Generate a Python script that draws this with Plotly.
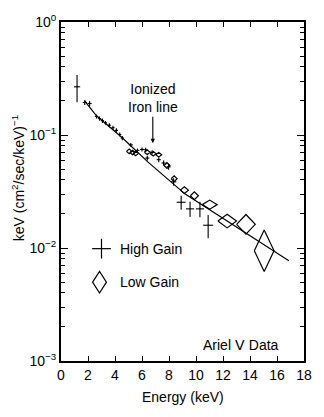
import numpy as np
import plotly.graph_objects as go

# ---------------- data ----------------
# High gain (crosses): energy, flux, energy half-width, flux error
hg_E = [1.19, 1.76, 2.12, 2.63, 2.85, 3.07, 3.30, 3.58, 3.85, 4.10, 4.35, 4.54,
        5.17, 5.66, 6.00, 6.27, 6.39, 6.75, 7.24, 7.60, 7.97, 8.34,
        8.90, 9.56, 10.29, 10.90]
hg_F = [0.267, 0.194, 0.190, 0.146, 0.140, 0.134, 0.128, 0.122, 0.116, 0.110, 0.101, 0.094,
        0.0818, 0.0731, 0.0745, 0.0740, 0.0625, 0.0703, 0.0605, 0.0565, 0.0523, 0.0385,
        0.0254, 0.0222, 0.0222, 0.0159]
hg_dE = [0.23, 0.15, 0.15, 0.12, 0.12, 0.12, 0.12, 0.12, 0.12, 0.12, 0.12, 0.12,
         0.15, 0.15, 0.15, 0.15, 0.15, 0.15, 0.15, 0.15, 0.15, 0.20,
         0.33, 0.30, 0.30, 0.37]
hg_dF = [0.072, 0.010, 0.010, 0.006, 0.006, 0.006, 0.005, 0.005, 0.005, 0.005, 0.004, 0.004,
         0.003, 0.003, 0.003, 0.003, 0.003, 0.003, 0.003, 0.003, 0.003, 0.003,
         0.0036, 0.0034, 0.0035, 0.0037]

# Low gain (diamonds): energy, flux, energy half-width, flux half-height (dex)
lg_E = [5.05, 5.30, 5.53, 6.39, 6.83, 7.24, 7.85, 8.38, 9.14, 9.88, 11.02, 12.31, 13.70, 15.05]
lg_F = [0.0716, 0.0700, 0.0685, 0.0703, 0.0682, 0.0670, 0.0537, 0.0410, 0.0325, 0.0290,
        0.0242, 0.0173, 0.0162, 0.00946]
lg_dE = [0.20, 0.20, 0.20, 0.22, 0.22, 0.22, 0.22, 0.22, 0.30, 0.30, 0.55, 0.69, 0.69, 0.73]
lg_dlog = [0.02, 0.02, 0.02, 0.02, 0.02, 0.02, 0.025, 0.025, 0.03, 0.035, 0.04, 0.06, 0.087, 0.183]

# Model curve
fit_E = [1.75, 2.63, 4.54, 6.45, 9.20, 12.49, 14.56, 16.88]
fit_F = [0.200, 0.148, 0.0945, 0.0575, 0.0300, 0.0168, 0.0115, 0.0077]

x_ticks = [0, 2, 4, 6, 8, 10, 12, 14, 16, 18]
y_ticks = [1e-3, 1e-2, 1e-1, 1e0]
y_ticktext = ["10<sup>−3</sup>", "10<sup>−2</sup>", "10<sup>−1</sup>", "10<sup>0</sup>"]

# ---------------- figure ----------------
FONT = "Liberation Sans"
fig = go.Figure()

fig.add_trace(go.Scatter(x=fit_E, y=fit_F, mode="lines",
                         line=dict(color="black", width=1.2), showlegend=False,
                         hoverinfo="skip"))

fig.add_trace(go.Scatter(
    x=hg_E, y=hg_F, mode="markers",
    marker=dict(size=1, color="black"),
    error_x=dict(type="data", array=hg_dE, width=0, thickness=1.1, color="black"),
    error_y=dict(type="data", array=hg_dF, width=0, thickness=1.1, color="black"),
    showlegend=False))

dx, dy = [], []
for e, f, de, dl in zip(lg_E, lg_F, lg_dE, lg_dlog):
    dx += [e - de, e, e + de, e, e - de, None]
    dy += [f, f * 10 ** dl, f, f * 10 ** (-dl), f, None]
fig.add_trace(go.Scatter(x=dx, y=dy, mode="lines",
                         line=dict(color="black", width=1.2),
                         showlegend=False, hoverinfo="skip"))

# plot-area geometry helpers (paper coords)
W, H = 324, 417
ml, mr, mt, mb = 61, 17, 17, 56
pw, ph = W - ml - mr, H - mt - mb
def px(x): return (x - ml) / pw
def py(y): return (H - mb - y) / ph

# legend drawn as shapes
cx, cy = px(102), py(247)
hx, hy = 9.5 / pw, 10 / ph
fig.add_shape(type="line", xref="paper", yref="paper", x0=cx - hx, x1=cx + hx, y0=cy, y1=cy,
              line=dict(color="black", width=1.2))
fig.add_shape(type="line", xref="paper", yref="paper", x0=cx, x1=cx, y0=cy - hy, y1=cy + hy,
              line=dict(color="black", width=1.2))
dxp, dyp = px(100), py(281)
wx, wy = 7 / pw, 11 / ph
fig.add_shape(type="path", xref="paper", yref="paper",
              path=f"M {dxp-wx} {dyp} L {dxp} {dyp+wy} L {dxp+wx} {dyp} L {dxp} {dyp-wy} Z",
              line=dict(color="black", width=1.2))

ann_font = dict(family=FONT, size=14, color="black")
fig.add_annotation(xref="paper", yref="paper", x=px(119), y=py(247), text="High Gain",
                   showarrow=False, xanchor="left", yanchor="middle", font=ann_font)
fig.add_annotation(xref="paper", yref="paper", x=px(119), y=py(281), text="Low Gain",
                   showarrow=False, xanchor="left", yanchor="middle", font=ann_font)
fig.add_annotation(xref="paper", yref="paper", x=px(243), y=py(345), text="Ariel Ⅴ Data",
                   showarrow=False, xanchor="center", yanchor="middle", font=ann_font)
fig.add_annotation(x=6.8, y=np.log10(0.0847), text="Ionized<br>Iron line",
                   showarrow=True, arrowhead=2, arrowsize=0.8, arrowwidth=1.1, arrowcolor="black",
                   ax=0, ay=-45, font=ann_font, standoff=0)
fig.add_annotation(xref="paper", yref="paper", x=px(184), y=py(398), text="Energy (keV)",
                   showarrow=False, xanchor="center", yanchor="middle", font=ann_font)
fig.add_annotation(xref="paper", yref="paper", x=px(17), y=py(176),
                   text="keV (cm<sup>2</sup>/sec/keV)<sup>−1</sup>", textangle=-90,
                   showarrow=False, xanchor="center", yanchor="middle", font=ann_font)

fig.update_xaxes(range=[0, 18], tickvals=x_ticks, ticks="inside", ticklen=5, tickwidth=1.2,
                 tickcolor="black", showline=True, linecolor="black", linewidth=1.8,
                 mirror="allticks", showgrid=False, zeroline=False,
                 tickfont=dict(family=FONT, size=14, color="black"))
fig.update_yaxes(type="log", range=[-3, 0], tickvals=y_ticks, ticktext=y_ticktext,
                 ticks="inside", ticklen=7, tickwidth=1.2, tickcolor="black",
                 minor=dict(ticks="inside", ticklen=4, tickwidth=1.2, tickcolor="black",
                            dtick="D1", showgrid=False),
                 showline=True, linecolor="black", linewidth=1.8, mirror="allticks",
                 showgrid=False, zeroline=False,
                 tickfont=dict(family=FONT, size=14, color="black"))
fig.update_layout(width=W, height=H, margin=dict(l=ml, r=mr, t=mt, b=mb),
                  plot_bgcolor="white", paper_bgcolor="white", showlegend=False)

fig.write_html("out.html")
